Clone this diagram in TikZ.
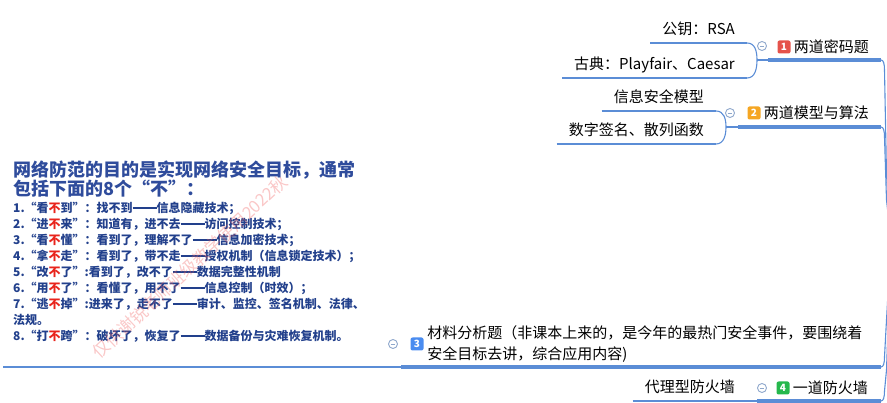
\documentclass[tikz,border=0pt]{standalone}
\usepackage{fontspec}
\setmainfont{Noto Sans CJK SC}
\usetikzlibrary{positioning}
\definecolor{Line}{HTML}{5B8DD6}
\definecolor{Knob}{HTML}{8FA8CC}
\definecolor{BadgeRed}{HTML}{E5534B}
\definecolor{BadgeAmber}{HTML}{F5A623}
\definecolor{BadgeBlue}{HTML}{4A8CF0}
\definecolor{BadgeGreen}{HTML}{25B84C}
\definecolor{TitleBlue}{HTML}{2F4C9C}
\definecolor{ItemBlue}{HTML}{22408C}
\definecolor{NoRed}{HTML}{E8241C}
\definecolor{Stamp}{HTML}{F06060}
\newcommand{\redbu}{\textcolor{NoRed}{不}}
\newcommand{\longdash}{\rule[0.3em]{2em}{0.1em}}
\tikzset{
  topic/.style={anchor=west, inner sep=0pt, font=\fontsize{15}{18}\selectfont},
  sub/.style={anchor=south east, inner xsep=12pt, inner ysep=0pt, text height=11pt, text depth=8pt, font=\fontsize{15}{18}\selectfont},
  badge/.style={fill=#1, rounded corners=2pt, minimum size=13pt, inner sep=0pt, text=white, font=\fontsize{10}{10}\selectfont\bfseries},
  knob/.style={circle, draw=Knob, line width=0.9pt, minimum size=9pt, inner sep=0pt,
    path picture={\draw[Knob, line width=0.9pt] ([xshift=-2.3pt]path picture bounding box.center) -- ([xshift=2.3pt]path picture bounding box.center);}},
  headtext/.style={anchor=west, align=left, inner sep=0pt, text=TitleBlue, font=\fontsize{18}{18.5}\selectfont\bfseries},
  itemtext/.style={anchor=west, align=left, inner sep=0pt, text=ItemBlue, font=\fontsize{12}{16}\selectfont\bfseries},
  stamp/.style={rotate=43, inner sep=0pt, text=Stamp, opacity=0.35, font=\fontsize{17}{17}\selectfont},
  mainline/.style={draw=Line, line width=3.2pt},
  subline/.style={draw=Line, line width=2.6pt},
  thinline/.style={draw=Line, line width=1.1pt}
}
\begin{document}
\begin{tikzpicture}[x=1pt,y=-1pt]
  \useasboundingbox (0,0) rectangle (887,403);
  \clip (0,0) rectangle (887,403);
  \coordinate (root) at (891,240);

  % branch 1
  \coordinate (j1) at (757,60);
  \coordinate (m1) at (768,60);
  \coordinate (e1) at (881,60);
  \node[sub] (s11) at (747,43) {公钥：RSA};
  \node[sub] (s12) at (747,78) {古典：Playfair、Caesar};
  \node[knob] (k1) at (762,46) {};
  \node[badge=BadgeRed] (b1) at (784,47) {1};
  \node[topic, right=3pt of b1] (t1) {两道密码题};
  \draw[subline] (s11.south west) -- (s11.south east);
  \draw[subline] (s12.south west) -- (s12.south east);
  \draw[thinline] (s11.south east) .. controls +(8,0) and +(0,-9) .. (j1) .. controls +(0,9) and +(8,0) .. (s12.south east);
  \draw[thinline] (j1) -- (m1);
  \draw[mainline] (m1) -- (e1);
  \draw[thinline] (e1) .. controls +(2.5,0) and +(0,-6) .. (884.5,70) -- (886.5,175) -- (root);

  % branch 2
  \coordinate (j2) at (726,127);
  \coordinate (m2) at (738,127);
  \coordinate (e2) at (881,127);
  \node[sub] (s21) at (716,111) {信息安全模型};
  \node[sub] (s22) at (716,144) {数字签名、散列函数};
  \node[knob] (k2) at (730,113) {};
  \node[badge=BadgeAmber] (b2) at (754,113) {2};
  \node[topic, right=3pt of b2] (t2) {两道模型与算法};
  \draw[subline] (s21.south west) -- (s21.south east);
  \draw[subline] (s22.south west) -- (s22.south east);
  \draw[thinline] (s21.south east) .. controls +(8,0) and +(0,-8) .. (j2) .. controls +(0,8) and +(8,0) .. (s22.south east);
  \draw[thinline] (j2) -- (m2);
  \draw[mainline] (m2) -- (e2);
  \draw[thinline] (e2) .. controls +(2.5,0) and +(0,-6) .. (884.5,137) -- (886.5,200) -- (root);

  % branch 3
  \coordinate (p0) at (3,367);
  \coordinate (p1) at (379,367);
  \coordinate (j3) at (401,367);
  \coordinate (e3) at (881,367);
  \node[headtext] (head) at (13,179) {网络防范的目的是实现网络安全目标，通常\\包括下面的8个“不”：};
  \node[itemtext] (list) at (13,272) {1.“看\redbu 到”：找不到\longdash 信息隐藏技术；\\
    2.“进\redbu 来”：知道有，进不去\longdash 访问控制技术；\\
    3.“看\redbu 懂”：看到了，理解不了\longdash 信息加密技术；\\
    4.“拿\redbu 走”：看到了，带不走\longdash 授权机制（信息锁定技术）；\\
    5.“改\redbu 了”:看到了，改不了\longdash 数据完整性机制\\
    6.“用\redbu 了”：看懂了，用不了\longdash 信息控制（时效）；\\
    7.“逃\redbu 掉”:进来了，走不了\longdash 审计、监控、签名机制、法律、\\
    法规。\\
    8.“打\redbu 跨”：破坏了，恢复了\longdash 数据备份与灾难恢复机制。};
  \node[stamp] (mark) at (190,267) {仅供谢锐老师班级教学使用2022秋};
  \node[knob] (k3) at (393,344) {};
  \node[badge=BadgeBlue] (b3) at (417,344) {3};
  \node[topic, align=left, font=\fontsize{15}{21}\selectfont, right=3.5pt of b3] (t3) {材料分析题（非课本上来的，是今年的最热门安全事件，要围绕着\\安全目标去讲，综合应用内容)};
  \draw[subline] (p0) -- (p1);
  \draw[thinline] (p1) -- (j3);
  \draw[mainline] (j3) -- (e3);
  \draw[thinline] (e3) .. controls +(2.5,0) and +(0,6) .. (884.5,357) -- (886.5,320) -- (root);

  % branch 4
  \coordinate (j4) at (757,401);
  \coordinate (e4) at (881,401);
  \node[sub] (s41) at (747,401) {代理型防火墙};
  \node[knob] (k4) at (762,388) {};
  \node[badge=BadgeGreen] (b4) at (783,388) {4};
  \node[topic, right=3pt of b4] (t4) {一道防火墙};
  \draw[subline] (s41.south west) -- (s41.south east);
  \draw[thinline] (s41.south east) -- (j4);
  \draw[mainline] (j4) -- (e4);
  \draw[thinline] (e4) .. controls +(2.5,0) and +(0,6) .. (884.5,391) -- (886.5,370) -- (root);
\end{tikzpicture}
\end{document}
